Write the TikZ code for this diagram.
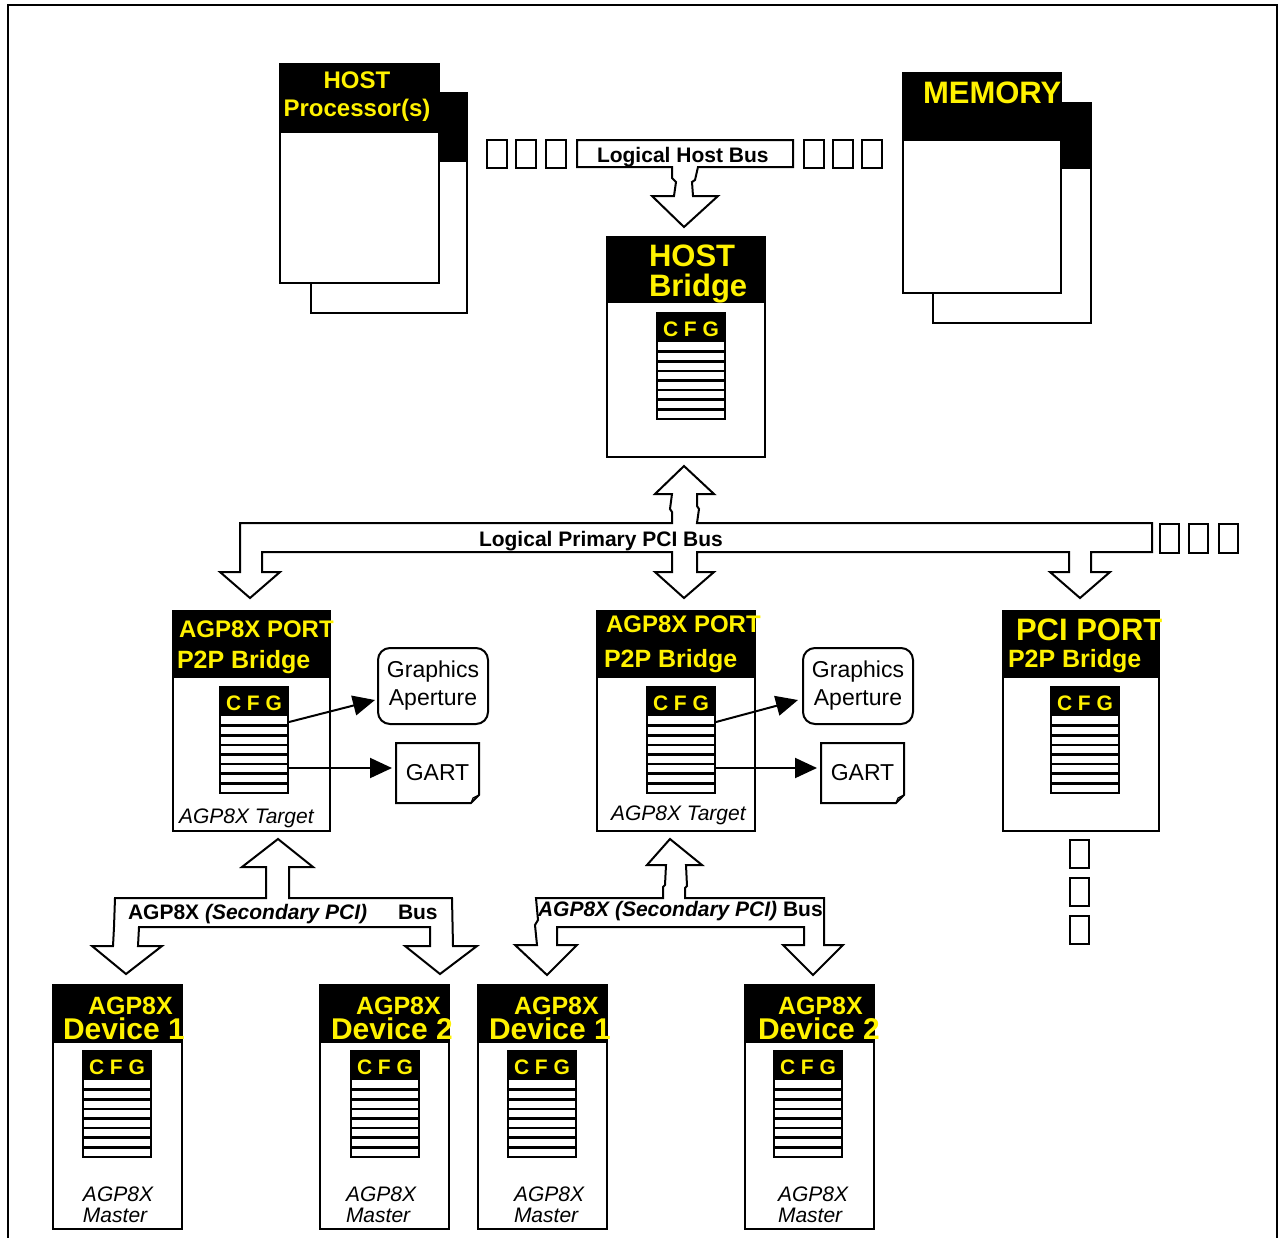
\documentclass[tikz,border=0pt]{standalone}
\usepackage{fontspec}
\setmainfont{Liberation Sans}
\usetikzlibrary{arrows.meta}
\newcommand{\fsz}[1]{\fontsize{#1}{#1}\selectfont}
\tikzset{
  every picture/.style={line width=1pt},
  unit/.style={draw, fill=white, inner sep=0pt, anchor=north west,
    path picture={\fill[black] (path picture bounding box.north west) rectangle ([yshift=-#1]path picture bounding box.north east);}},
  cfg/.style={draw, fill=white, inner sep=0pt, anchor=north west, minimum width=34pt, minimum height=53pt,
    text=yellow, font=\bfseries\fsz{10.5}, text height=11.8pt, text depth=41.2pt,
    path picture={
      \fill[black] (path picture bounding box.north west) rectangle ([yshift=-14.5pt]path picture bounding box.north east);
      \foreach \k in {1,...,7}
        \draw[line width=1.3pt] ([yshift={-14.5pt-\k*4.8125pt}]path picture bounding box.north west) -- ([yshift={-14.5pt-\k*4.8125pt}]path picture bounding box.north east);
    }},
  ylw/.style={text=yellow, inner sep=0pt, anchor=base west, font=\bfseries\fsz{#1}},
  lbl/.style={inner sep=0pt, anchor=base west, font=\bfseries\fsz{10.5}},
  itl/.style={inner sep=0pt, anchor=base west, font=\itshape\fsz{10.5}},
  bus/.style={draw, fill=white, line join=miter},
  dots/.style={draw, inner sep=0pt, minimum width=#1},
  aper/.style={draw, rounded corners=6pt, inner sep=0pt, minimum width=55pt, minimum height=38pt, align=center, font=\fontsize{11.5}{14}\selectfont},
  gart/.style={inner sep=0pt, minimum width=40.5pt, minimum height=29pt, font=\fsz{11.5}},
  ptr/.style={-{Triangle[length=11pt,width=10pt]}},
}

\begin{document}
\begin{tikzpicture}[x=0.5pt, y=-0.5pt]
  \useasboundingbox (0,0) rectangle (1281,1238);
  \draw (8,1238) -- (8,5) -- (1277,5) -- (1277,1238);

  % host side
  \node[unit=34.5pt, minimum width=78pt, minimum height=110pt] (cpuB) at (310,92) {};
  \node[unit=34.5pt, minimum width=79.5pt, minimum height=109.5pt] (cpuA) at (279,63) {};
  \node[ylw=12, anchor=base] (cpuA-l1) at (357,88) {HOST};
  \node[ylw=12, anchor=base] (cpuA-l2) at (357,116) {Processor(s)};

  \node[unit=33pt, minimum width=79pt, minimum height=110pt] (memB) at (932,102) {};
  \node[unit=34pt, minimum width=79pt, minimum height=110pt] (memA) at (902,72) {};
  \node[ylw=15.5] (memA-l1) at (922,103) {MEMORY};

  \draw[bus] (577,140) -- (793,140) -- (793,167) -- (698,167) -- (695,180) -- (692,182) -- (693,196)
    -- (718,196) -- (684,227) -- (652,196) -- (674,196) -- (676,182) -- (672,178) -- (672,167) -- (577,167) -- cycle;
  \node[lbl] (hbus) at (596,162) {Logical Host Bus};
  \node[dots=10pt, minimum height=14pt] (hq1) at (497,154) {};
  \node[dots=10pt, minimum height=14pt] (hq2) at (526,154) {};
  \node[dots=10pt, minimum height=14pt] (hq3) at (555.5,154) {};
  \node[dots=10pt, minimum height=14pt] (hq4) at (813.5,154) {};
  \node[dots=10pt, minimum height=14pt] (hq5) at (842.5,154) {};
  \node[dots=10pt, minimum height=14pt] (hq6) at (872,154) {};

  \node[unit=33pt, minimum width=79pt, minimum height=110pt] (hb) at (606,236) {};
  \node[ylw=15.5] (hb-l1) at (648,266) {HOST};
  \node[ylw=15.5] (hb-l2) at (648,296) {Bridge};
  \node[cfg] (hb-cfg) at (656,312) {C F G};

  % primary bus
  \draw[bus] (240,523) -- (672,523) -- (672,512) -- (670,509) -- (672,494) -- (655,494) -- (684,466) -- (714,494)
    -- (697,494) -- (697,506) -- (699,509) -- (697,523) -- (1152,523) -- (1152,552) -- (1091,552) -- (1091,572)
    -- (1110,572) -- (1080,598) -- (1050,572) -- (1069,572) -- (1069,552) -- (697,552) -- (697,572) -- (714,572)
    -- (684,598) -- (655,572) -- (672,572) -- (672,552) -- (262,552) -- (262,572) -- (280,572) -- (250,598)
    -- (220,572) -- (240,572) -- cycle;
  \node[lbl] (pbus) at (478,546) {Logical Primary PCI Bus};
  \node[dots=9.5pt, minimum height=14.5pt] (pq1) at (1169,538) {};
  \node[dots=9.5pt, minimum height=14.5pt] (pq2) at (1198,538) {};
  \node[dots=9.5pt, minimum height=14.5pt] (pq3) at (1228,538) {};

  % AGP port A
  \node[unit=33.5pt, minimum width=78.5pt, minimum height=110pt] (agpA) at (172,610) {};
  \node[ylw=12] (agpA-l1) at (178,637) {AGP8X PORT};
  \node[ylw=12.5] (agpA-l2) at (176,668) {P2P Bridge};
  \node[cfg] (agpA-cfg) at (219,686) {C F G};
  \node[itl] (agpA-l3) at (178,823) {AGP8X Target};
  \node[aper] (gaA) at (433,686) {Graphics\\Aperture};
  \node[gart] (gartA) at (437.5,773) {GART};
  \draw (gartA.north west) -- (gartA.north east) -- ([yshift=4pt]gartA.south east) -- ([xshift=-4pt]gartA.south east) -- (gartA.south west) -- cycle;
  \draw[line width=0.6pt] ([yshift=4pt]gartA.south east) -- ([xshift=-3pt,yshift=2.5pt]gartA.south east) -- ([xshift=-4pt]gartA.south east);
  \draw[ptr] ([yshift=-18pt]agpA-cfg.north east) -- ([xshift=-1pt,yshift=-7pt]gaA.west);
  \draw[ptr] ([yshift=-41pt]agpA-cfg.north east) -- ([xshift=-2pt,yshift=2.5pt]gartA.west);

  % AGP port B
  \node[unit=33.5pt, minimum width=79pt, minimum height=110pt] (agpB) at (596,610) {};
  \node[ylw=12] (agpB-l1) at (605,632) {AGP8X PORT};
  \node[ylw=12.5] (agpB-l2) at (603,667) {P2P Bridge};
  \node[cfg] (agpB-cfg) at (646,686) {C F G};
  \node[itl] (agpB-l3) at (610,820) {AGP8X Target};
  \node[aper] (gaB) at (858,686) {Graphics\\Aperture};
  \node[gart] (gartB) at (862.5,773) {GART};
  \draw (gartB.north west) -- (gartB.north east) -- ([yshift=4pt]gartB.south east) -- ([xshift=-4pt]gartB.south east) -- (gartB.south west) -- cycle;
  \draw[line width=0.6pt] ([yshift=4pt]gartB.south east) -- ([xshift=-3pt,yshift=2.5pt]gartB.south east) -- ([xshift=-4pt]gartB.south east);
  \draw[ptr] ([yshift=-18pt]agpB-cfg.north east) -- ([xshift=-2pt,yshift=-7pt]gaB.west);
  \draw[ptr] ([yshift=-41pt]agpB-cfg.north east) -- ([xshift=-2pt,yshift=2.5pt]gartB.west);

  % PCI port
  \node[unit=33.5pt, minimum width=78pt, minimum height=110pt] (pci) at (1002,610) {};
  \node[ylw=15.5] (pci-l1) at (1015,640) {PCI PORT};
  \node[ylw=12.5] (pci-l2) at (1007,667) {P2P Bridge};
  \node[cfg] (pci-cfg) at (1050,686) {C F G};
  \node[dots=9.5pt, minimum height=14pt] (vq1) at (1079,853.5) {};
  \node[dots=9.5pt, minimum height=14pt] (vq2) at (1079,892) {};
  \node[dots=9.5pt, minimum height=14pt] (vq3) at (1079,930) {};

  % secondary buses
  \draw[bus] (115,898) -- (266,898) -- (266,867) -- (242,867) -- (278,839) -- (313,867) -- (289,867) -- (289,898)
    -- (452,898) -- (453,946) -- (477,946) -- (440,974) -- (405,946) -- (430,946) -- (430,927) -- (139,927)
    -- (138,946) -- (162,946) -- (126,974) -- (92,946) -- (113,946) -- (114,927) -- cycle;
  \node[lbl] (sbusA) at (127,919) {AGP8X \textit{(Secondary PCI)}};
  \node[lbl] (sbusA-b) at (397,919) {Bus};

  \draw[bus] (536,898) -- (663,898) -- (663,887) -- (665,885) -- (666,865) -- (647,865) -- (670,839) -- (702,865)
    -- (686,865) -- (687,886) -- (685,888) -- (685,898) -- (824,898) -- (824,945) -- (843,945) -- (813,975)
    -- (783,945) -- (804,945) -- (804,927) -- (557,927) -- (557,945) -- (577,945) -- (547,975) -- (515,945)
    -- (537,945) -- (535,925) -- (538,920) -- cycle;
  \node[lbl] (sbusB) at (537,916) {\textit{AGP8X (Secondary PCI)} Bus};

  % devices
  \node[unit=29pt, minimum width=64.5pt, minimum height=122pt] (devA) at (52,984) {};
  \node[ylw=12.5] (devA-l1) at (87,1014) {AGP8X};
  \node[ylw=15] (devA-l2) at (62,1039) {Device 1};
  \node[cfg] (devA-cfg) at (82,1050) {C F G};
  \node[itl] (devA-l3) at (82,1201) {AGP8X};
  \node[itl] (devA-l4) at (82,1222) {Master};

  \node[unit=29pt, minimum width=64.5pt, minimum height=122pt] (devB) at (319,984) {};
  \node[ylw=12.5] (devB-l1) at (355,1014) {AGP8X};
  \node[ylw=15] (devB-l2) at (330,1039) {Device 2};
  \node[cfg] (devB-cfg) at (350,1050) {C F G};
  \node[itl] (devB-l3) at (345,1201) {AGP8X};
  \node[itl] (devB-l4) at (345,1222) {Master};

  \node[unit=29pt, minimum width=64.5pt, minimum height=122pt] (devC) at (477,984) {};
  \node[ylw=12.5] (devC-l1) at (513,1014) {AGP8X};
  \node[ylw=15] (devC-l2) at (488,1039) {Device 1};
  \node[cfg] (devC-cfg) at (507,1050) {C F G};
  \node[itl] (devC-l3) at (513,1201) {AGP8X};
  \node[itl] (devC-l4) at (513,1222) {Master};

  \node[unit=29pt, minimum width=64.5pt, minimum height=122pt] (devD) at (744,984) {};
  \node[ylw=12.5] (devD-l1) at (777,1014) {AGP8X};
  \node[ylw=15] (devD-l2) at (757,1039) {Device 2};
  \node[cfg] (devD-cfg) at (773,1050) {C F G};
  \node[itl] (devD-l3) at (777,1201) {AGP8X};
  \node[itl] (devD-l4) at (777,1222) {Master};
\end{tikzpicture}
\end{document}
